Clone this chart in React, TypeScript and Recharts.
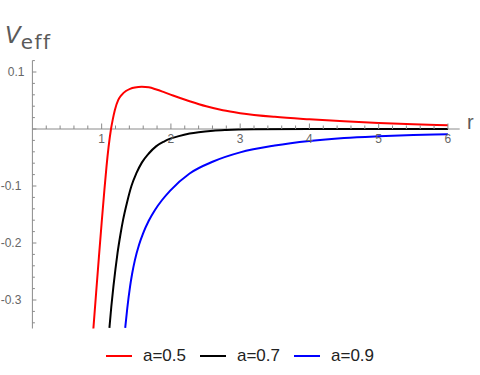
import React from 'react';
import { LineChart, Line, XAxis, YAxis, ReferenceLine, Legend } from 'recharts';

const seriesNames = ['a=0.5', 'a=0.7', 'a=0.9'];
const seriesColors = ['#ff0000', '#000000', '#0000ff'];

const redR = [0.88, 0.92, 0.96, 1.0, 1.04, 1.07, 1.10, 1.135, 1.16, 1.19, 1.24, 1.29, 1.35, 1.41, 1.48, 1.58, 1.68, 1.79, 1.9, 2.03, 2.27, 2.51, 2.75, 3.0, 3.5, 4.0, 4.5, 5.0, 5.5, 6.0];
const redV = [-0.351, -0.2877, -0.2253, -0.1645, -0.1065, -0.066, -0.0315, 0.0, 0.0165, 0.033, 0.051, 0.060, 0.0666, 0.0705, 0.0729, 0.074, 0.0731, 0.0693, 0.0646, 0.0587, 0.0487, 0.0398, 0.0328, 0.0278, 0.0213, 0.0170, 0.0134, 0.0105, 0.0082, 0.0064];

const blackR = [1.112, 1.14, 1.17, 1.2, 1.23, 1.27, 1.31, 1.37, 1.43, 1.5, 1.58, 1.68, 1.79, 1.9, 1.99, 2.1, 2.27, 2.4, 2.61, 2.8, 3.2, 4.0, 5.0, 6.0];
const blackV = [-0.349, -0.311, -0.276, -0.245, -0.217, -0.186, -0.159, -0.127, -0.100, -0.078, -0.059, -0.043, -0.030, -0.022, -0.017, -0.013, -0.008, -0.0055, -0.003, -0.0018, -0.0006, 0, 0, 0];

const blueR = [1.34, 1.37, 1.41, 1.44, 1.48, 1.54, 1.6, 1.68, 1.77, 1.87, 1.99, 2.27, 2.61, 3.0, 3.5, 4.0, 4.5, 5.0, 5.5, 6.0];
const blueV = [-0.349, -0.3145, -0.2765, -0.254, -0.230, -0.203, -0.1826, -0.161, -0.142, -0.125, -0.108, -0.078, -0.057, -0.041, -0.029, -0.021, -0.0158, -0.0128, -0.0107, -0.009];

const xTicks = [0.2, 0.4, 0.6, 0.8, 1, 1.2, 1.4, 1.6, 1.8, 2, 2.2, 2.4, 2.6, 2.8, 3, 3.2, 3.4, 3.6, 3.8, 4, 4.2, 4.4, 4.6, 4.8, 5, 5.2, 5.4, 5.6, 5.8, 6];
const yTicks = [-0.34, -0.32, -0.3, -0.28, -0.26, -0.24, -0.22, -0.2, -0.18, -0.16, -0.14, -0.12, -0.1, -0.08, -0.06, -0.04, -0.02, 0, 0.02, 0.04, 0.06, 0.08, 0.1, 0.12];

const xDomain = [0, 6.17];
const yDomain = [-0.35, 0.12];

const zip = (rs: number[], vs: number[]) => rs.map((r, i) => ({ r, v: vs[i] }));
const seriesData = [zip(redR, redV), zip(blackR, blackV), zip(blueR, blueV)];

const W = 480;
const H = 375;
const M = { top: 60.6, right: 20.3, bottom: 0, left: 0 };
const XH = 46.5;
const YW = 32.4;
const plotH = H - M.top - M.bottom - XH;
const zeroOffset = (plotH * (0 - yDomain[0])) / (yDomain[1] - yDomain[0]);

const AXIS = '#8a8a8a';
const LABEL = '#666';
const FONT = '"Liberation Sans", Arial, sans-serif';

const isMajor = (v: number, step: number) => Math.abs(v / step - Math.round(v / step)) < 1e-6;

const XTick = (props: any) => {
  const { x, y, payload } = props;
  const v = payload.value as number;
  const major = isMajor(v, 1);
  const y0 = y - zeroOffset;
  return (
    <g>
      <line x1={x} x2={x} y1={y0} y2={y0 - (major ? 5.5 : 3.5)} stroke={AXIS} strokeWidth={1} />
      {major && (
        <text x={x} y={y0 + 14} textAnchor="middle" fontSize={12} fontFamily={FONT} fill={LABEL}>
          {String(Math.round(v))}
        </text>
      )}
    </g>
  );
};

const YTick = (props: any) => {
  const { x, y, payload } = props;
  const v = payload.value as number;
  const major = isMajor(v, 0.1);
  const label = Math.abs(v) < 1e-9 ? '' : v.toFixed(1);
  return (
    <g>
      <line x1={x} x2={x + (major ? 4 : 2.5)} y1={y} y2={y} stroke={AXIS} strokeWidth={1} />
      {major && label && (
        <text x={v > 0 ? x - 8 : x - 11} y={y + 4} textAnchor="end" fontSize={12} fontFamily={FONT} fill={LABEL}>
          {label}
        </text>
      )}
    </g>
  );
};

const LegendContent = () => (
  <div style={{ display: 'flex', justifyContent: 'center', alignItems: 'center', height: 26, fontFamily: FONT }}>
    {seriesNames.map((name, i) => (
      <div key={name} style={{ display: 'flex', alignItems: 'center', marginRight: i < seriesNames.length - 1 ? 14 : 0 }}>
        <svg width={26} height={4}>
          <line x1={0} x2={26} y1={2} y2={2} stroke={seriesColors[i]} strokeWidth={2} />
        </svg>
        <span style={{ marginLeft: 11, fontSize: 17, color: '#222', lineHeight: '26px' }}>{name}</span>
      </div>
    ))}
  </div>
);

export default function App() {
  return (
    <div style={{ position: 'absolute', left: 0, top: 0, width: W, height: H, background: '#fff' }}>
      <LineChart width={W} height={H} margin={M}>
        <XAxis
          type="number"
          dataKey="r"
          domain={xDomain}
          ticks={xTicks}
          allowDataOverflow
          height={XH}
          axisLine={false}
          tickLine={false}
          tickSize={0}
          tickMargin={0}
          interval={0}
          tick={<XTick />}
        />
        <YAxis
          type="number"
          dataKey="v"
          domain={yDomain}
          ticks={yTicks}
          allowDataOverflow
          width={YW}
          axisLine={{ stroke: AXIS, strokeWidth: 1 }}
          tickLine={false}
          tickSize={0}
          tickMargin={0}
          interval={0}
          tick={<YTick />}
        />
        <ReferenceLine y={0} stroke={AXIS} strokeWidth={1} ifOverflow="extendDomain" />
        {seriesData.map((d, i) => (
          <Line
            key={seriesNames[i]}
            data={d}
            dataKey="v"
            name={seriesNames[i]}
            type="monotone"
            stroke={seriesColors[i]}
            strokeWidth={2}
            dot={false}
            activeDot={false}
            isAnimationActive={false}
          />
        ))}
        <Legend
          layout="horizontal"
          verticalAlign="middle"
          align="center"
          content={<LegendContent />}
          wrapperStyle={{ top: 343, left: 0, width: W }}
        />
      </LineChart>
      <div style={{ position: 'absolute', left: 5, top: 22, fontFamily: '"DejaVu Sans", sans-serif', color: '#5a5a5a', whiteSpace: 'nowrap' }}>
        <span style={{ fontSize: 23, fontStyle: 'italic' }}>V</span>
        <span style={{ fontSize: 20, letterSpacing: 1.5, position: 'relative', top: 6 }}>eff</span>
      </div>
      <div style={{ position: 'absolute', left: 467, top: 111, fontFamily: FONT, fontSize: 20, color: '#5a5a5a' }}>r</div>
    </div>
  );
}
